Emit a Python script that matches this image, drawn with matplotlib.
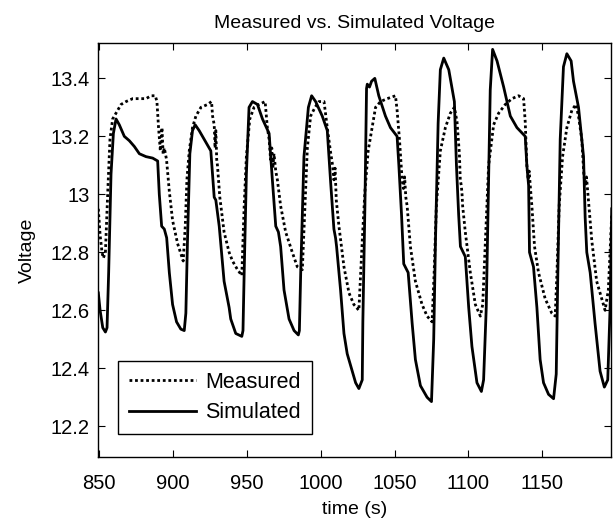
import matplotlib
matplotlib.use('Agg')
import matplotlib.pyplot as plt

plt.rcParams['font.family'] = ['Liberation Sans', 'DejaVu Sans']

# measured voltage (dotted), one cycle per line
meas_time = [849.3, 850.5, 851.8, 852.7, 854.1, 855.7, 857.2, 859.0, 861.3, 864.7, 868.1, 872.6, 877.1, 881.6, 885.0, 887.9,
             889.0, 890.1, 891.3, 892.4, 893.2, 894.0, 895.5, 897.4, 899.6, 903.0, 906.8,
             908.2, 909.3, 910.9, 913.1, 915.4, 918.8, 923.3, 926.0, 926.7, 927.8, 928.4, 928.9, 929.5, 930.0, 931.6,
             934.5, 937.9, 940.2, 943.6, 946.5,
             948.1, 949.6, 951.9, 954.8, 958.2, 962.3, 963.8, 965.0, 966.0, 966.8, 967.5, 968.3, 969.5, 970.6, 972.8,
             976.2, 980.7, 984.1, 987.5,
             989.3, 990.9, 993.1, 996.1, 998.8, 1002.2, 1004.4, 1006.5, 1008.0, 1008.9, 1009.7, 1010.5, 1012.3,
             1015.7, 1019.1, 1022.4, 1025.8,
             1028.1, 1029.9, 1032.1, 1034.4, 1037.1, 1040.5, 1045.0, 1050.6, 1051.7, 1053.3, 1055.1, 1056.0, 1056.8,
             1057.6, 1058.5, 1060.7, 1064.1, 1068.6, 1072.0, 1075.4,
             1076.8, 1078.3, 1081.0, 1084.4, 1087.8, 1090.5, 1092.3, 1093.9, 1094.5, 1095.2, 1095.7, 1096.1, 1097.9,
             1101.3, 1104.7, 1108.1,
             1109.7, 1111.5, 1113.7, 1117.1, 1120.5, 1125.0, 1129.5, 1134.0, 1137.4, 1138.5, 1139.6, 1140.5, 1141.2,
             1141.9, 1143.0, 1144.8, 1147.5, 1152.0, 1156.5, 1158.8,
             1160.0, 1161.5, 1163.8, 1166.7, 1170.1, 1172.8, 1174.6, 1176.8, 1178.2, 1179.1, 1180.0, 1181.3, 1183.6,
             1186.9, 1190.3, 1192.6, 1194.8, 1197.1]
meas_volt = [12.95, 12.86, 12.80, 12.78, 12.80, 13.01, 13.19, 13.26, 13.28, 13.31, 13.32, 13.33, 13.33, 13.33, 13.34, 13.34,
             13.32, 13.23, 13.15, 13.23, 13.14, 13.16, 13.12, 13.01, 12.91, 12.83, 12.77,
             12.89, 13.05, 13.15, 13.23, 13.27, 13.30, 13.31, 13.32, 13.27, 13.24, 13.16, 13.22, 13.12, 13.10, 12.99,
             12.87, 12.80, 12.77, 12.74, 12.72,
             12.96, 13.13, 13.26, 13.30, 13.31, 13.32, 13.23, 13.19, 13.12, 13.16, 13.09, 13.14, 13.08, 13.05, 12.96,
             12.87, 12.80, 12.75, 12.74,
             12.96, 13.16, 13.27, 13.30, 13.32, 13.32, 13.23, 13.15, 13.10, 13.05, 13.09, 12.98, 12.89,
             12.75, 12.66, 12.62, 12.60,
             12.84, 13.01, 13.15, 13.22, 13.30, 13.32, 13.33, 13.34, 13.29, 13.19, 13.05, 13.02, 13.06,
             12.99, 12.96, 12.82, 12.70, 12.62, 12.58, 12.56,
             12.73, 12.96, 13.15, 13.23, 13.28, 13.30, 13.25, 13.14, 13.05, 13.03, 13.00, 12.96, 12.87,
             12.73, 12.62, 12.58,
             12.62, 12.84, 13.10, 13.24, 13.28, 13.31, 13.33, 13.34, 13.33, 13.25, 13.10, 13.05, 13.08,
             13.03, 12.96, 12.82, 12.73, 12.64, 12.59, 12.58,
             12.73, 12.96, 13.13, 13.23, 13.29, 13.31, 13.27, 13.19, 13.07, 13.03, 13.06, 12.98, 12.84,
             12.70, 12.64, 12.60, 12.67, 12.93]

# simulated voltage (solid)
sim_time = [849.3, 850.5, 852.3, 854.1, 855.2, 856.3, 857.9, 859.5, 861.3, 863.5, 866.9, 870.3, 873.7, 877.1, 881.6,
            886.1, 889.5, 890.6, 892.2, 894.0, 895.6, 897.4, 899.6, 902.3, 905.2, 907.5,
            908.6, 909.7, 911.3, 913.1, 914.9, 917.6, 921.0, 925.5, 927.8, 928.9, 931.2, 934.5, 937.9, 939.0, 942.4, 946.5,
            947.3, 948.1, 949.6, 951.4, 953.7, 957.1, 960.5, 965.0, 967.2, 969.5, 971.3, 972.8, 975.1, 978.5, 981.9, 984.8,
            985.5, 986.4, 988.6, 991.6, 993.8, 996.5, 1001.0, 1004.4, 1006.7, 1008.9, 1010.0, 1010.7, 1013.4, 1015.7,
            1017.9, 1021.3, 1023.6, 1025.8,
            1028.1, 1028.5, 1029.9, 1031.0, 1031.5, 1033.0, 1034.4, 1036.6, 1039.3, 1043.8, 1047.2, 1051.7, 1052.9,
            1054.7, 1056.2, 1059.2, 1061.9, 1064.1, 1067.5, 1072.0, 1075.0,
            1076.5, 1077.7, 1079.5, 1081.0, 1083.3, 1086.7, 1090.5, 1091.9, 1093.4, 1094.6, 1097.9, 1100.2, 1102.4,
            1105.8, 1108.8,
            1110.3, 1112.1, 1114.8, 1116.4, 1119.4, 1123.9, 1128.4, 1132.9, 1138.5, 1139.6, 1140.8, 1141.4, 1144.1,
            1146.4, 1148.6, 1150.9, 1154.3, 1157.7,
            1159.5, 1160.6, 1162.2, 1164.4, 1166.7, 1169.6, 1171.2, 1174.6, 1178.0, 1179.1, 1180.2, 1182.5, 1185.8,
            1189.2, 1192.1, 1194.4, 1196.0, 1197.1]
sim_volt = [12.66, 12.60, 12.54, 12.525, 12.54, 12.73, 13.07, 13.21, 13.26, 13.24, 13.20, 13.185, 13.165, 13.14, 13.13,
            13.125, 13.115, 13.00, 12.89, 12.88, 12.85, 12.73, 12.62, 12.56, 12.535, 12.53,
            12.59, 12.84, 13.14, 13.22, 13.24, 13.22, 13.19, 13.15, 12.99, 12.98, 12.89, 12.70, 12.61, 12.57, 12.52, 12.51,
            12.53, 12.73, 13.07, 13.30, 13.32, 13.31, 13.26, 13.21, 13.05, 12.89, 12.87, 12.82, 12.67, 12.57, 12.53, 12.515,
            12.53, 12.73, 13.13, 13.30, 13.34, 13.32, 13.27, 13.22, 13.04, 12.88, 12.85, 12.82, 12.67, 12.52,
            12.45, 12.39, 12.35, 12.33,
            12.36, 12.56, 12.96, 13.365, 13.38, 13.37, 13.39, 13.40, 13.34, 13.27, 13.23, 13.20, 13.10,
            12.93, 12.76, 12.73, 12.555, 12.43, 12.34, 12.30, 12.285,
            12.50, 12.84, 13.245, 13.43, 13.47, 13.43, 13.32, 13.10, 12.93, 12.82, 12.785, 12.61, 12.475,
            12.35, 12.32,
            12.36, 12.61, 13.36, 13.50, 13.46, 13.37, 13.27, 13.23, 13.20, 13.10, 13.03, 12.80, 12.75,
            12.61, 12.43, 12.35, 12.31, 12.295,
            12.38, 12.73, 13.19, 13.44, 13.485, 13.46, 13.39, 13.30, 13.13, 12.92, 12.80, 12.73, 12.555,
            12.39, 12.335, 12.36, 12.61, 12.95]

xticks = [850, 900, 950, 1000, 1050, 1100, 1150]
yticks = [12.2, 12.4, 12.6, 12.8, 13.0, 13.2, 13.4]
ytick_labels = ['12.2', '12.4', '12.6', '12.8', '13', '13.2', '13.4']


def main():
    fig = plt.figure(figsize=(6.13, 5.18), dpi=100)
    ax = fig.add_axes([0.1604, 0.1178, 0.8356, 0.7992])

    ax.plot(meas_time, meas_volt, color='black', lw=2, linestyle=(0, (1, 1)), label='Measured')
    ax.plot(sim_time, sim_volt, color='black', lw=2, label='Simulated')

    ax.set_xlim(849.3, 1196.3)
    ax.set_ylim(12.094, 13.522)
    ax.set_xticks(xticks)
    ax.set_yticks(yticks)
    ax.set_yticklabels(ytick_labels)
    ax.tick_params(direction='in', top=True, right=True, length=5, width=0.8, labelsize=14.5)
    ax.tick_params(axis='x', pad=12)
    ax.tick_params(axis='y', pad=6)
    for sp in ax.spines.values():
        sp.set_linewidth(1.0)

    ax.set_title('Measured vs. Simulated Voltage', fontsize=14, pad=11)
    ax.set_xlabel('time (s)', fontsize=14, labelpad=6)
    ax.set_ylabel('Voltage', fontsize=14, labelpad=11)

    leg = ax.legend(loc='lower left', bbox_to_anchor=(0.0385, 0.0556), borderaxespad=0,
                    fancybox=False, edgecolor='black', framealpha=1, fontsize=15.5,
                    handlelength=3.1, handletextpad=0.45, borderpad=0.5, labelspacing=0.45)
    leg.get_frame().set_linewidth(1.0)

    fig.savefig('out.png', dpi=100)


if __name__ == "__main__":
    main()
